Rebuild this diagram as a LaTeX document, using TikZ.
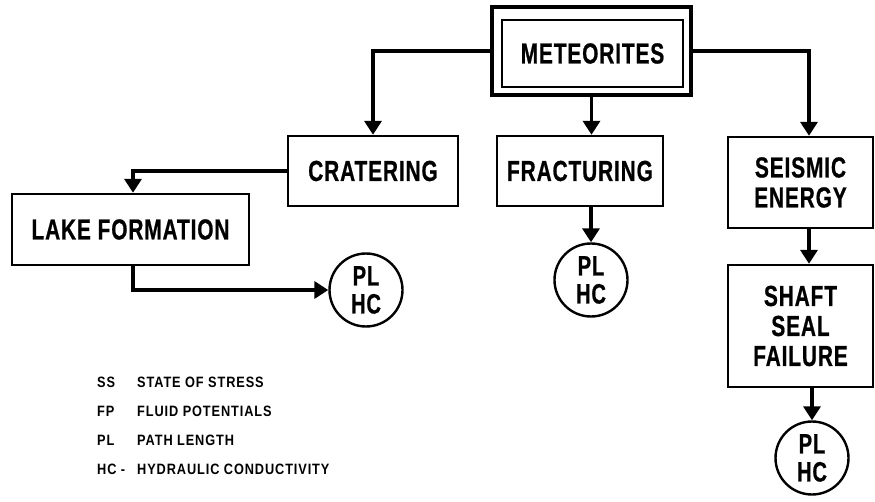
\documentclass[tikz,border=0pt]{standalone}
\usepackage{fontspec}
\setmainfont{Liberation Sans}[FakeBold=0.6, FakeStretch=0.72, LetterSpace=3]
\newfontfamily\legendfont{Liberation Sans}[UprightFont=*-Bold, FakeStretch=0.85, LetterSpace=6]
\usetikzlibrary{arrows.meta}

\tikzset{
  box/.style={draw, line width=2.4pt, inner sep=0pt, align=center,
              font=\bfseries\fontsize{29}{30}\selectfont},
  ring/.style={draw, circle, line width=2.4pt, inner sep=0pt, align=center,
               minimum size=73pt, font=\bfseries\fontsize{28}{28}\selectfont},
  link/.style={line width=3.6pt, line join=miter},
  arr/.style={link, -{Triangle[width=17pt,length=14pt]}},
  legend/.style={anchor=base west, inner sep=0pt,
                 font=\legendfont\fontsize{15}{15}\selectfont}
}

\begin{document}
\begin{tikzpicture}[x=1pt, y=-1pt]
\useasboundingbox (0,0) rectangle (875,502);

% top box with a doubled frame
\node[draw, line width=4.2pt, minimum width=199pt, minimum height=88pt] (metout) at (591.5,51) {};
\node[box, minimum width=181pt, minimum height=67pt] (met) at (592.5,53.5) {METEORITES};

% first row of effects
\node[box, minimum width=170pt, minimum height=70pt] (crat) at (373,171) {CRATERING};
\node[box, minimum width=166pt, minimum height=70pt] (frac) at (580,171) {FRACTURING};
\node[box, minimum width=145pt, minimum height=91pt] (seis) at (800.5,182.5) {SEISMIC\\ENERGY};

% consequences
\node[box, minimum width=237pt, minimum height=71pt] (lake) at (130.5,229.5) {LAKE FORMATION};
\node[box, minimum width=145pt, minimum height=122pt] (shaft) at (800.5,326) {SHAFT\\SEAL\\FAILURE};

% affected parameters
\node[ring] (pl1) at (366,290) {PL\\HC};
\node[ring] (pl2) at (591,280) {PL\\HC};
\node[ring] (pl3) at (812,458) {PL\\HC};

% connectors
\coordinate (seisin) at (809,0);
\draw[arr] (metout.west) -| (crat.north);
\draw[arr] (metout.south) -- (metout.south |- frac.north);
\draw[arr] (metout.east) -| (seisin |- seis.north);
\coordinate (lakein) at (133,0);
\draw[arr] (crat.west) -| (lakein |- lake.north);
\draw[arr] (lakein |- lake.south) |- (pl1.west);
\draw[arr] (pl2.north |- frac.south) -- (pl2.north);
\draw[arr] (seisin |- seis.south) -- (seisin |- shaft.north);
\draw[arr] (pl3.north |- shaft.south) -- (pl3.north);

% key to abbreviations
\node[legend] (k1) at (97,387) {SS};
\node[legend] (d1) at (137,387) {STATE OF STRESS};
\node[legend] (k2) at (97,416) {FP};
\node[legend] (d2) at (137,416) {FLUID POTENTIALS};
\node[legend] (k3) at (97,445) {PL};
\node[legend] (d3) at (137,445) {PATH LENGTH};
\node[legend] (k4) at (97,474) {HC -};
\node[legend] (d4) at (137,474) {HYDRAULIC CONDUCTIVITY};
\end{tikzpicture}
\end{document}
